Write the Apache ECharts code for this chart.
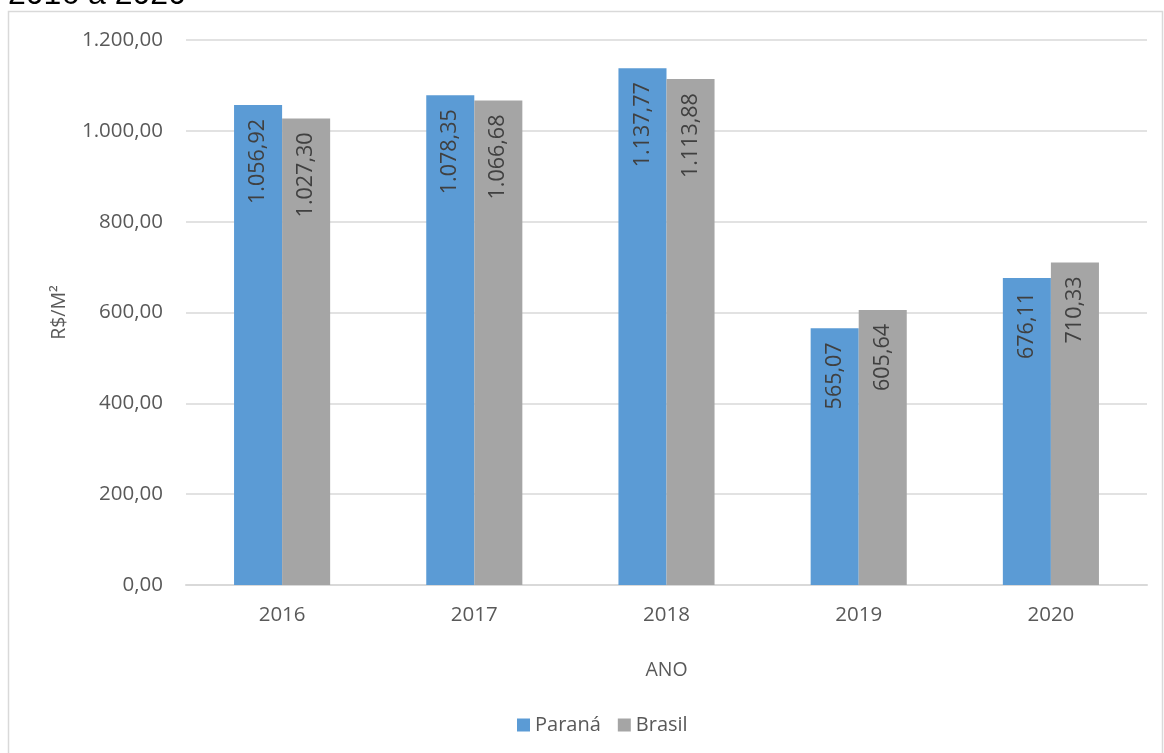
<!DOCTYPE html>
<html>
<head>
<meta charset="utf-8">
<script src="https://cdn.jsdelivr.net/npm/echarts@6/dist/echarts.min.js"></script>
<style>
html,body{margin:0;padding:0;background:#fff;}
#chart{width:1164px;height:753px;}
</style>
</head>
<body>
<div id="chart"></div>
<script>
const categories = ['2016', '2017', '2018', '2019', '2020'];
const parana = [1056.92, 1078.35, 1137.77, 565.07, 676.11];
const brasil = [1027.30, 1066.68, 1113.88, 605.64, 710.33];
const seriesNames = ['Paraná', 'Brasil'];
const yAxisTitle = 'R$/M²';
const xAxisTitle = 'ANO';
const titleFragment = '2016 à 2020';

const FONT = '"Open Sans", "Noto Sans", sans-serif';

function fmt(v) {
  const parts = v.toFixed(2).split('.');
  parts[0] = parts[0].replace(/\B(?=(\d{3})+(?!\d))/g, '.');
  return parts[0] + ',' + parts[1];
}

const chart = echarts.init(document.getElementById('chart'), null, {renderer: 'canvas'});

const labelCfg = {
  show: true,
  position: 'insideTop',
  rotate: 90,
  align: 'right',
  verticalAlign: 'middle',
  distance: 14,
  fontFamily: FONT,
  fontSize: 21.5,
  color: '#404040',
  formatter: p => fmt(p.value)
};

chart.setOption({
  animation: false,
  backgroundColor: '#fff',
  graphic: [
    {
      type: 'rect',
      shape: {x: 8.5, y: 11.5, width: 1154, height: 760},
      style: {fill: 'none', stroke: '#d9d9d9', lineWidth: 1.5},
      silent: true
    },
    {
      type: 'text',
      left: 8,
      top: -21,
      style: {text: titleFragment, fontFamily: '"Liberation Sans", Arial, sans-serif', fontSize: 32, fontWeight: 'normal', fill: '#000'},
      silent: true
    }
  ],
  legend: {
    data: seriesNames,
    left: 512,
    top: 710,
    icon: 'rect',
    itemWidth: 13,
    itemHeight: 13,
    itemGap: 17,
    textStyle: {fontFamily: FONT, fontSize: 20, color: '#595959'}
  },
  grid: {left: 186, right: 17, top: 40, bottom: 168},
  xAxis: {
    type: 'category',
    data: categories,
    name: xAxisTitle,
    nameLocation: 'middle',
    nameGap: 75,
    nameTextStyle: {fontFamily: FONT, fontSize: 19.5, color: '#595959'},
    axisLine: {lineStyle: {color: '#d9d9d9', width: 2}},
    axisTick: {show: false},
    axisLabel: {fontFamily: FONT, fontSize: 20.5, color: '#595959', margin: 20}
  },
  yAxis: {
    type: 'value',
    min: 0,
    max: 1200,
    interval: 200,
    name: yAxisTitle,
    nameLocation: 'middle',
    nameGap: 117,
    nameRotate: 90,
    nameTextStyle: {fontFamily: FONT, fontSize: 19.5, color: '#595959'},
    axisLine: {show: false},
    axisTick: {show: false},
    splitLine: {lineStyle: {color: '#d9d9d9', width: 1.5}},
    axisLabel: {fontFamily: FONT, fontSize: 20.5, color: '#595959', margin: 23, formatter: v => fmt(v)}
  },
  series: [
    {name: seriesNames[0], type: 'bar', data: parana, barGap: '0%', barCategoryGap: '50%',
     itemStyle: {color: '#5b9bd5'}, label: labelCfg},
    {name: seriesNames[1], type: 'bar', data: brasil, barGap: '0%', barCategoryGap: '50%',
     itemStyle: {color: '#a5a5a5'}, label: labelCfg}
  ]
});
</script>
</body>
</html>
